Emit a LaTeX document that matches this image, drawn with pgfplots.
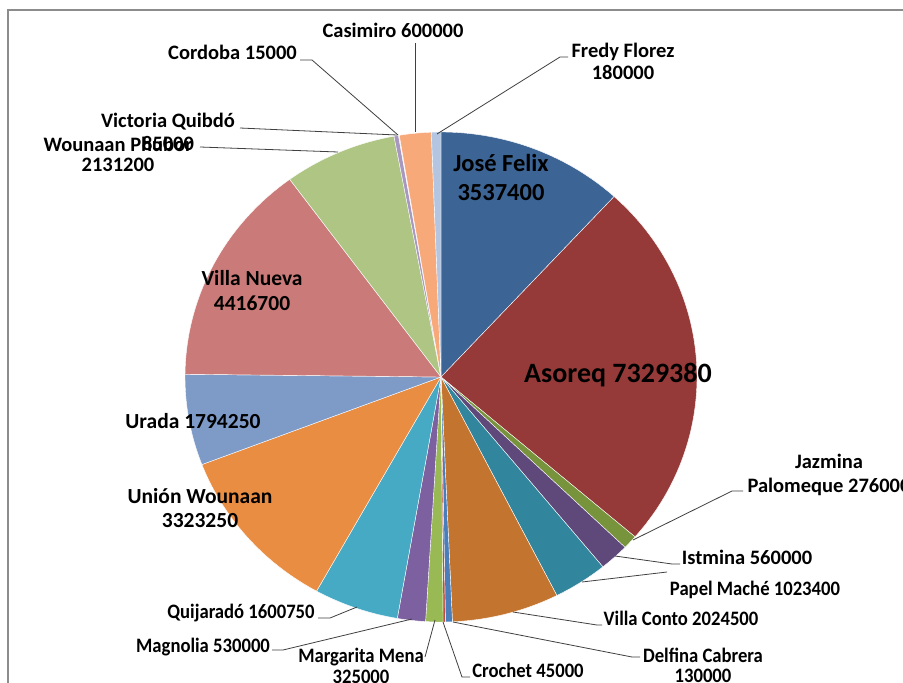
\documentclass[border=0pt]{standalone}
\usepackage{pgfplots}
\pgfplotsset{compat=1.18}
\usepackage{fontspec}
\setmainfont{Carlito}
\definecolor{cA}{HTML}{3C6494}
\definecolor{cB}{HTML}{953A38}
\definecolor{cC}{HTML}{77933C}
\definecolor{cD}{HTML}{5F497A}
\definecolor{cE}{HTML}{31859C}
\definecolor{cF}{HTML}{C3752F}
\definecolor{cG}{HTML}{4A7EBB}
\definecolor{cH}{HTML}{BE4B48}
\definecolor{cI}{HTML}{98B954}
\definecolor{cJ}{HTML}{7D60A0}
\definecolor{cK}{HTML}{46AAC5}
\definecolor{cL}{HTML}{E98D42}
\definecolor{cM}{HTML}{7E9BC8}
\definecolor{cN}{HTML}{CA7B79}
\definecolor{cO}{HTML}{AEC584}
\definecolor{cP}{HTML}{A897BE}
\definecolor{cQ}{HTML}{8FC4D6}
\definecolor{cR}{HTML}{F8A97A}
\definecolor{cS}{HTML}{B3C5E0}
\definecolor{frame}{HTML}{8C8C8C}
\newcommand\fsm{\fontsize{20.5bp}{22.5bp}\selectfont\bfseries}
\newcommand\fmd{\fontsize{21.5bp}{24bp}\selectfont\bfseries}
\newcommand\flg{\fontsize{24.5bp}{28bp}\selectfont\bfseries}
\newcommand\fxl{\fontsize{28bp}{32bp}\selectfont\bfseries}
\newcommand\cnd[1]{\scalebox{0.91}[1]{#1}}
\def\total{29926830}
\begin{document}
\begin{tikzpicture}
\begin{scope}[x=1bp,y=-1bp]
\useasboundingbox (0,0) rectangle (903,683);
\fill[white] (0,0) rectangle (903,683);
\clip (0,0) rectangle (903,683);
\draw[color=frame, line width=2bp] (7.5,700) -- (7.5,10.5) -- (920,10.5);
\end{scope}
\begin{axis}[at={(441bp,-377bp)}, anchor=center, scale only axis,
  width=512bp, height=490bp, xmin=-1, xmax=1, ymin=-1, ymax=1,
  hide axis, clip=false]
\xdef\cum{0}
\foreach \v/\c in {3537400/cA, 7329380/cB, 276000/cC, 560000/cD, 1023400/cE,
  2024500/cF, 130000/cG, 45000/cH, 325000/cI, 530000/cJ, 1600750/cK,
  3323250/cL, 1794250/cM, 4416700/cN, 2131200/cO, 85000/cP, 15000/cQ,
  600000/cR, 180000/cS}{
  \edef\sa{\fpeval{90-360*(\cum+\v)/\total}}
  \edef\sb{\fpeval{90-360*\cum/\total}}
  \edef\ns{\fpeval{max(3,ceil(\sb-\sa)+2)}}
  \edef\doplot{\noexpand\addplot[fill=\c, draw=white, line width=0.4bp,
    data cs=polar, domain=\sa:\sb, samples=\ns] ({x},{1}) -- (axis cs:0,0) -- cycle;}
  \doplot
  \xdef\cum{\fpeval{\cum+\v}}
}
\end{axis}
\begin{scope}[x=1bp,y=-1bp]
\clip (0,0) rectangle (903,683);
\begin{scope}[black!75, line width=0.8bp]
\draw (415,43)--(415,132);
\draw (300,60)--(312,60)--(398,135);
\draw (568,57)--(560,57)--(437,134);
\draw (240,128)--(397,135);
\draw (200,147)--(338,152);
\draw (743,491)--(732,491)--(633,540);
\draw (680,564)--(672,564)--(615,556);
\draw (667,572)--(582,582);
\draw (602,625)--(597,625)--(513,612);
\draw (640,657)--(632,657)--(453,622);
\draw (470,677)--(462,677)--(443,622);
\draw (425,657)--(435,620);
\draw (272,650)--(283,650)--(412,619);
\draw (318,618)--(330,618)--(357,607);
\end{scope}
\begin{scope}[every node/.style={anchor=base, inner sep=0pt, text=black}]
\node[font=\fsm] at (393,38) {Casimiro 600000};
\node[font=\fsm] at (232.5,60) {Cordoba 15000};
\node[font=\fsm] at (623,58) {Fredy Florez};
\node[font=\fsm] at (623,80) {180000};
\node[font=\fsm] at (168,128) {Victoria Quibdó};
\node[font=\fsm] at (168,151) {85000};
\node[font=\fsm] at (118,152) {Wounaan Phubor};
\node[font=\fsm] at (118,172) {2131200};
\node[font=\flg] at (501,172) {José Felix};
\node[font=\flg] at (501,200) {3537400};
\node[font=\fxl] at (618,382) {Asoreq 7329380};
\node[font=\fmd] at (252,285) {Villa Nueva};
\node[font=\fmd] at (252,310) {4416700};
\node[font=\fmd] at (193,428) {Urada 1794250};
\node[font=\fmd] at (200,503) {Unión Wounaan};
\node[font=\fmd] at (200,527) {3323250};
\node[font=\fsm] at (829,468) {Jazmina};
\node[font=\fsm] at (829,492) {Palomeque 276000};
\node[font=\fsm] at (747,564) {Istmina 560000};
\node[font=\fsm] at (755,595) {\cnd{Papel Maché 1023400}};
\node[font=\fsm] at (681,625) {\cnd{Villa Conto 2024500}};
\node[font=\fsm] at (703,662) {\cnd{Delfina Cabrera}};
\node[font=\fsm] at (703,682) {\cnd{130000}};
\node[font=\fsm] at (528,677) {\cnd{Crochet 45000}};
\node[font=\fsm] at (361,662) {\cnd{Margarita Mena}};
\node[font=\fsm] at (361,683) {\cnd{325000}};
\node[font=\fsm] at (203,652) {\cnd{Magnolia 530000}};
\node[font=\fsm] at (241,618) {\cnd{Quijaradó 1600750}};
\end{scope}
\end{scope}
\end{tikzpicture}
\end{document}
